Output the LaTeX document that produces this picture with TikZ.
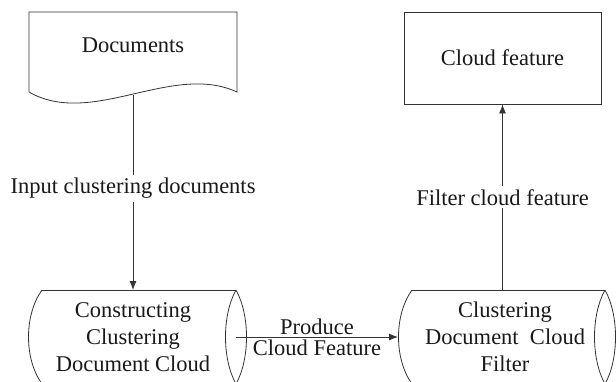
\documentclass[tikz,border=0pt]{standalone}
\usepackage{fontspec}
\setmainfont{Liberation Serif}
\usetikzlibrary{arrows.meta,positioning}

\begin{document}
\begin{tikzpicture}[x=1pt,y=-1pt,line width=0.8pt,draw=black!80,
        every node/.style={font=\fontsize{22.5}{27}\selectfont,text=black!90},
        arr/.style={draw=black!80,-{Latex[length=9pt,width=7pt]}},
        lbl/.style={fill=white,inner sep=3pt}]
            \useasboundingbox (0,0) rectangle (616,381);
            % document shape
            \draw (29,92) -- (29,12) -- (237,12) -- (237,92)
                  .. controls (172,62) and (92,128) .. (29,92);
            \node (docs) at (133,45) {Documents};
            \coordinate (docsb) at (133,95);
            % the two cylinders
            \foreach \l/\r in {42/236,412/605} {
                \draw (\l,290) -- (\r,290) (\l,384) -- (\r,384);
                \draw (\l,290) .. controls (\l-18,315) and (\l-18,359) .. (\l,384);
                \draw (\r,290) .. controls (\r-14,315) and (\r-14,359) .. (\r,384)
                               .. controls (\r+14,359) and (\r+14,315) .. (\r,290);
            }
            \node[align=center] (build) at (133,337) {Constructing\\Clustering\\Document Cloud};
            \node[align=center] (filt)  at (505,337) {Clustering\\Document~ Cloud\\Filter};
            \node[draw,minimum width=197pt,minimum height=92pt] (feat) at (502.5,58) {Cloud feature};
            \coordinate (buildtop) at (133,290);
            \coordinate (buildend) at (236,337);
            \coordinate (filtin)   at (398,337);
            \coordinate (filttop)  at (502.5,290);
            % connectors
            \draw[arr] (docsb) -- node[lbl,pos=0.48] {Input clustering documents} (buildtop);
            \draw[arr] (buildend) -- node[above,inner sep=2pt] {Produce}
                                     node[below,inner sep=2pt] {Cloud Feature} (filtin);
            \draw[arr] (filttop) -- node[lbl] {Filter cloud feature} (feat);
\end{tikzpicture}
\end{document}
